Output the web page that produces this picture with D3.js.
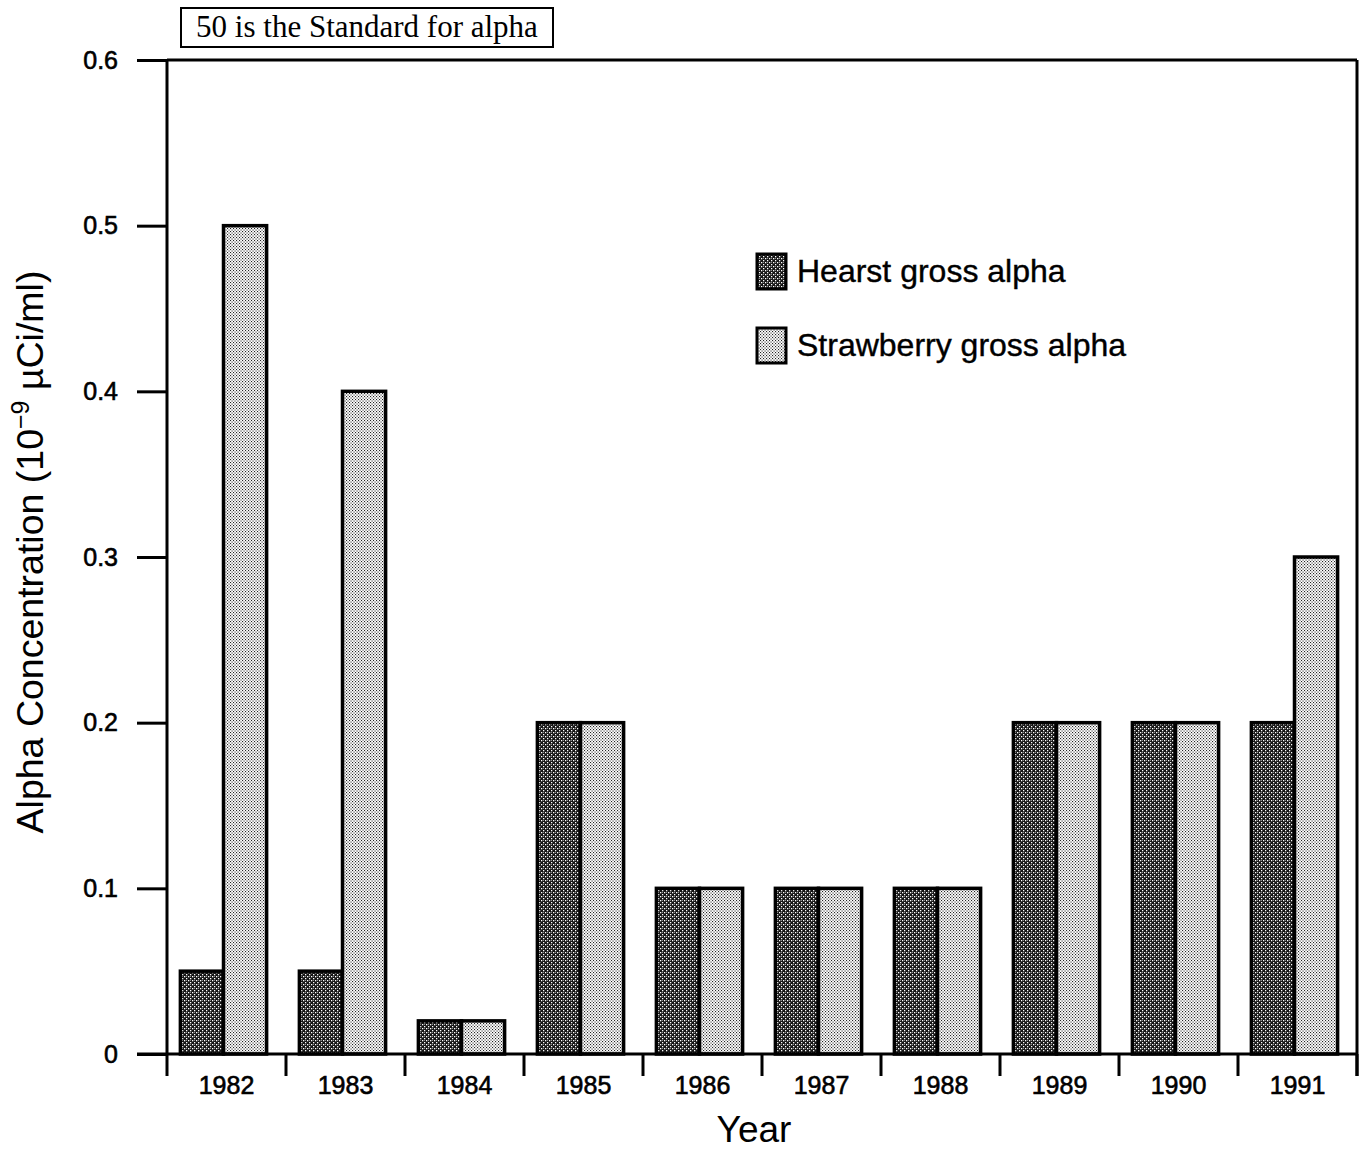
<!DOCTYPE html>
<html><head><meta charset="utf-8">
<script src="https://cdn.jsdelivr.net/npm/d3@7"></script>
<style>body{margin:0;background:#fff}svg{display:block}</style>
</head><body>
<script>
const years = ["1982","1983","1984","1985","1986","1987","1988","1989","1990","1991"];
const series = ["Hearst gross alpha","Strawberry gross alpha"];
const hearst = [0.05,0.05,0.02,0.2,0.1,0.1,0.1,0.2,0.2,0.2];
const strawberry = [0.5,0.4,0.02,0.2,0.1,0.1,0.1,0.2,0.2,0.3];
const yTicks = [0,0.1,0.2,0.3,0.4,0.5,0.6];
const titleText = "50 is the Standard for alpha";

const W=1363,H=1151;
const L=167,R=1357,T=60,B=1054;
const SANS="Liberation Sans, Arial, sans-serif";
const svg=d3.select("body").append("svg").attr("width",W).attr("height",H);
const defs=svg.append("defs");
const p1=defs.append("pattern").attr("id","pDark").attr("patternUnits","userSpaceOnUse").attr("width",4).attr("height",4);
p1.append("rect").attr("width",4).attr("height",4).attr("fill","#151515");
p1.append("rect").attr("x",0).attr("y",0).attr("width",1.3).attr("height",1.3).attr("fill","#fff");
p1.append("rect").attr("x",2).attr("y",2).attr("width",1.3).attr("height",1.3).attr("fill","#fff");
p1.append("rect").attr("x",2).attr("y",0).attr("width",0.8).attr("height",0.8).attr("fill","#ccc");
const p2=defs.append("pattern").attr("id","pLight").attr("patternUnits","userSpaceOnUse").attr("width",3).attr("height",3);
p2.append("rect").attr("width",3).attr("height",3).attr("fill","#fff");
p2.append("rect").attr("x",0).attr("y",0).attr("width",1.1).attr("height",1.1).attr("fill","#222");
p2.append("rect").attr("x",1.5).attr("y",1.5).attr("width",1.1).attr("height",1.1).attr("fill","#222");
const fills={"Hearst gross alpha":"url(#pDark)","Strawberry gross alpha":"url(#pLight)"};

const x=d3.scaleBand().domain(years).range([L,R]).paddingInner(0).paddingOuter(0);
const xs=d3.scaleBand().domain(series).range([0,x.bandwidth()]).paddingInner(0).paddingOuter(0.38);
const y=d3.scaleLinear().domain([0,0.6]).range([B,T]);

const rows=years.map((yr,i)=>({year:yr,vals:[{s:series[0],v:hearst[i]},{s:series[1],v:strawberry[i]}]}));
const g=svg.append("g");
g.selectAll("g.grp").data(rows).join("g").attr("class","grp")
 .attr("transform",d=>`translate(${x(d.year)-3},0)`)
 .selectAll("rect").data(d=>d.vals).join("rect")
 .attr("x",d=>xs(d.s)).attr("width",xs.bandwidth())
 .attr("y",d=>y(d.v)).attr("height",d=>y(0)-y(d.v))
 .attr("fill",d=>fills[d.s]).attr("stroke","#000").attr("stroke-width",3.5);

// Y axis
const ya=svg.append("g").attr("transform",`translate(${L},0)`)
 .call(d3.axisLeft(y).tickValues(yTicks).tickSize(30).tickPadding(19).tickFormat(d=>d===0?"0":d3.format(".1f")(d)));
ya.select(".domain").attr("stroke-width",3).attr("d",`M0,${T}V${B}`);
ya.selectAll(".tick line").attr("stroke-width",3);
ya.selectAll("text").attr("font-family",SANS).attr("font-size",25).attr("fill","#000").attr("stroke","#000").attr("stroke-width",0.6);

// top and right frame
svg.append("line").attr("x1",L).attr("x2",R).attr("y1",T).attr("y2",T).attr("stroke","#000").attr("stroke-width",3);
svg.append("line").attr("x1",R).attr("x2",R).attr("y1",T).attr("y2",B+22).attr("stroke","#000").attr("stroke-width",3);

// X axis
const xa=svg.append("g").attr("transform",`translate(0,${B})`)
 .call(d3.axisBottom(x).tickSize(0).tickPadding(22));
xa.select(".domain").attr("stroke-width",3).attr("d",`M${L-30},0H${R}`);
xa.selectAll("text").attr("font-family",SANS).attr("font-size",25).attr("fill","#000").attr("stroke","#000").attr("stroke-width",0.6);
svg.append("g").selectAll("line").data(years.map(d=>x(d)).concat([R])).join("line")
 .attr("x1",d=>d).attr("x2",d=>d).attr("y1",B).attr("y2",B+22).attr("stroke","#000").attr("stroke-width",3);

// axis titles
svg.append("text").attr("x",(L+R)/2-8).attr("y",1142).attr("text-anchor","middle")
 .attr("font-family",SANS).attr("font-size",37).text("Year");
const yt=svg.append("text").attr("transform","translate(43,552) rotate(-90)").attr("text-anchor","middle")
 .attr("font-family",SANS).attr("font-size",37.5);
yt.append("tspan").text("Alpha Concentration (10");
yt.append("tspan").attr("dy",-14).attr("font-size",25).text("−9");
yt.append("tspan").attr("dy",14).text(" µCi/ml)");

// legend
const lg=svg.append("g").selectAll("g").data(series).join("g")
 .attr("transform",(d,i)=>`translate(757,${254+i*74})`);
lg.append("rect").attr("width",29).attr("height",35).attr("fill",d=>fills[d]).attr("stroke","#000").attr("stroke-width",3);
lg.append("text").attr("x",40).attr("y",28).attr("font-family",SANS).attr("font-size",32).attr("stroke","#000").attr("stroke-width",0.4).text(d=>d);

// title box
svg.append("rect").attr("x",181).attr("y",8).attr("width",372).attr("height",39).attr("fill","#fff").attr("stroke","#000").attr("stroke-width",2);
svg.append("text").attr("x",367).attr("y",37).attr("text-anchor","middle")
 .attr("font-family","Liberation Serif, Times New Roman, serif").attr("font-size",31).text(titleText);
</script>
</body></html>
